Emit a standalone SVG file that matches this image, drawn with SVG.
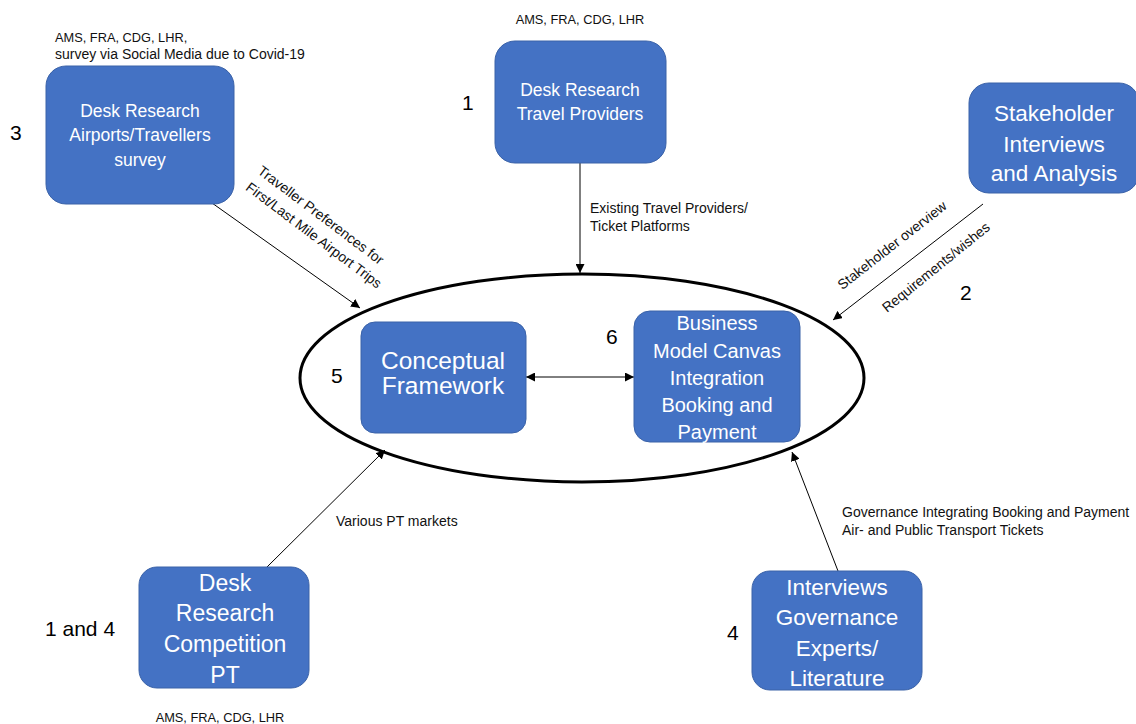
<svg xmlns="http://www.w3.org/2000/svg" width="1136" height="724" viewBox="0 0 1136 724">
<style>
.box{fill:#4472C4;stroke:#3A62A8;stroke-width:1}
.bt{font-family:"Liberation Sans",Arial,sans-serif;fill:#FFFFFF;text-anchor:middle}
.lbl{font-family:"Liberation Sans",Arial,sans-serif;fill:#111;font-size:14px}
.cap{font-family:"Liberation Sans",Arial,sans-serif;fill:#111;font-size:12.8px}
.num{font-family:"Liberation Sans",Arial,sans-serif;fill:#000;font-size:21px}
.con{stroke:#000;stroke-width:1;fill:none}
</style>
<defs>
<marker id="ah" viewBox="0 0 10 10" refX="10" refY="5" markerWidth="9" markerHeight="9" markerUnits="userSpaceOnUse" orient="auto-start-reverse">
<path d="M0,0 L10,5 L0,10 z" fill="#000"/>
</marker>
</defs>
<rect width="1136" height="724" fill="#fff"/>
<g id="ellipse">
<ellipse cx="582" cy="378" rx="282" ry="104" fill="none" stroke="#000" stroke-width="3"/>
</g>
<g id="connectors">
<line class="con" x1="212" y1="203" x2="360" y2="308" marker-end="url(#ah)"/>
<line class="con" x1="580" y1="163" x2="580" y2="273" marker-end="url(#ah)"/>
<line class="con" x1="983" y1="204" x2="833" y2="320" marker-end="url(#ah)"/>
<line class="con" x1="526" y1="377" x2="634" y2="377" marker-start="url(#ah)" marker-end="url(#ah)"/>
<line class="con" x1="267" y1="567" x2="385" y2="450" marker-end="url(#ah)"/>
<line class="con" x1="838" y1="571" x2="792" y2="452" marker-end="url(#ah)"/>
<text class="lbl" transform="translate(318,219) rotate(37)" text-anchor="middle">Traveller Preferences for</text>
<text class="lbl" transform="translate(311,239) rotate(37)" text-anchor="middle">First/Last Mile Airport Trips</text>
<text class="lbl" x="590" y="213">Existing Travel Providers/</text>
<text class="lbl" x="590" y="231">Ticket Platforms</text>
<text class="lbl" transform="translate(895,249) rotate(-38)" text-anchor="middle">Stakeholder overview</text>
<text class="lbl" transform="translate(939,271) rotate(-39)" text-anchor="middle">Requirements/wishes</text>
<text class="lbl" x="336" y="526">Various PT markets</text>
<text class="lbl" x="842" y="517">Governance Integrating Booking and Payment</text>
<text class="lbl" x="842" y="535">Air- and Public Transport Tickets</text>
</g>
<g id="node-airports">
<text class="cap" x="55" y="42">AMS, FRA, CDG, LHR,</text>
<text class="lbl" x="55" y="59">survey via Social Media due to Covid-19</text>
<text class="num" x="10" y="140">3</text>
<rect class="box" x="46" y="66" width="188" height="138" rx="20"/>
<text class="bt" font-size="17.5" x="140" y="117">Desk Research</text>
<text class="bt" font-size="17.5" x="140" y="141">Airports/Travellers</text>
<text class="bt" font-size="17.5" x="140" y="166">survey</text>
</g>
<g id="node-travel">
<text class="cap" x="580" y="24" text-anchor="middle">AMS, FRA, CDG, LHR</text>
<text class="num" x="462" y="110">1</text>
<rect class="box" x="495" y="41" width="171" height="122" rx="20"/>
<text class="bt" font-size="17.5" x="580" y="96">Desk Research</text>
<text class="bt" font-size="17.5" x="580" y="120">Travel Providers</text>
</g>
<g id="node-stakeholder">
<rect class="box" x="969" y="83" width="170" height="110" rx="20"/>
<text class="bt" font-size="22.5" x="1054" y="121">Stakeholder</text>
<text class="bt" font-size="22.5" x="1054" y="152">Interviews</text>
<text class="bt" font-size="22.5" x="1054" y="181">and Analysis</text>
<text class="num" x="960" y="300">2</text>
</g>
<g id="node-conceptual">
<text class="num" x="331" y="383">5</text>
<rect class="box" x="361" y="322" width="165" height="111" rx="14"/>
<text class="bt" font-size="24.5" x="443" y="369">Conceptual</text>
<text class="bt" font-size="24.5" x="443" y="394">Framework</text>
</g>
<g id="node-bmc">
<text class="num" x="606" y="344">6</text>
<rect class="box" x="634" y="311" width="166" height="131" rx="16"/>
<text class="bt" font-size="20" x="717" y="330">Business</text>
<text class="bt" font-size="20" x="717" y="358">Model Canvas</text>
<text class="bt" font-size="20" x="717" y="385">Integration</text>
<text class="bt" font-size="20" x="717" y="412">Booking and</text>
<text class="bt" font-size="20" x="717" y="439">Payment</text>
</g>
<g id="node-competition">
<text class="num" font-size="22.5" x="45" y="636">1 and 4</text>
<rect class="box" x="139" y="567" width="170" height="121" rx="18"/>
<text class="bt" font-size="23" x="225" y="591">Desk</text>
<text class="bt" font-size="23" x="225" y="621">Research</text>
<text class="bt" font-size="23" x="225" y="652">Competition</text>
<text class="bt" font-size="23" x="225" y="683">PT</text>
<text class="cap" x="220" y="722" text-anchor="middle">AMS, FRA, CDG, LHR</text>
</g>
<g id="node-governance">
<text class="num" x="727" y="640">4</text>
<rect class="box" x="752" y="571" width="170" height="119" rx="18"/>
<text class="bt" font-size="22.5" x="837" y="595">Interviews</text>
<text class="bt" font-size="22.5" x="837" y="625">Governance</text>
<text class="bt" font-size="22.5" x="837" y="656">Experts/</text>
<text class="bt" font-size="22.5" x="837" y="686">Literature</text>
</g>
</svg>
